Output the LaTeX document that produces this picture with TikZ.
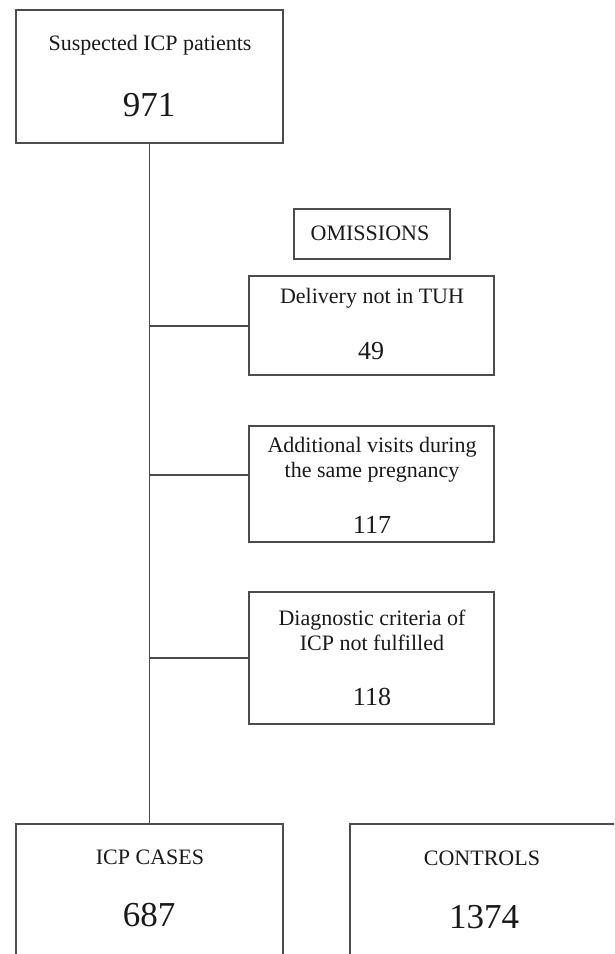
\documentclass[tikz,border=0pt]{standalone}
\usepackage{fontspec}
\setmainfont{Liberation Serif}
\usetikzlibrary{calc}
\definecolor{MyLineGrey}{rgb}{0.3,0.3,0.3}
\definecolor{MyTextGrey}{rgb}{0.1,0.1,0.1}

\begin{document}
\begin{tikzpicture}[x=1pt,y=-1pt]
       \tikzstyle{every node}=[font=\fontsize{22}{25}\selectfont, text=MyTextGrey]
       \tikzstyle{box}=[draw=MyLineGrey, line width=1.6pt, inner sep=0pt]
       \tikzstyle{link}=[draw=MyLineGrey, line width=1.6pt]
       \tikzstyle{bignum}=[font=\fontsize{35}{40}\selectfont]
       \tikzstyle{num}=[font=\fontsize{26}{30}\selectfont]
        \clip (0,0) rectangle (614,954);
        % boxes
        \node[box, minimum width=267pt, minimum height=133pt] (susp) at (149.5, 76.5) {};
        \node[box, minimum width=156pt, minimum height=50pt] (omis) at (372, 234) {};
        \node[box, minimum width=245pt, minimum height=99pt] (dlv) at (371.5, 325.5) {};
        \node[box, minimum width=245pt, minimum height=116pt] (addv) at (371.5, 484) {};
        \node[box, minimum width=245pt, minimum height=132pt] (diag) at (371.5, 658) {};
        \node[box, minimum width=267pt, minimum height=166pt] (cases) at (149.5, 907) {};
        \node[box, minimum width=267pt, minimum height=166pt] (ctrl) at (483.5, 907) {};
        % texts
        \node (suspT) at (150, 45) {Suspected ICP patients};
        \node[bignum] (suspN) at (149, 105) {971};
        \node (omisT) at (370, 233) {OMISSIONS};
        \node (dlvT) at (372, 298) {Delivery not in TUH};
        \node[num] (dlvN) at (371, 351) {49};
        \node[align=center] (addvT) at (372, 460) {Additional visits during\\the same pregnancy};
        \node[num] (addvN) at (372, 525) {117};
        \node[align=center] (diagT) at (372, 630) {Diagnostic criteria of\\ICP not fulfilled};
        \node[num] (diagN) at (372, 697) {118};
        \node (casesT) at (150, 857) {ICP CASES};
        \node[bignum] (casesN) at (149, 915) {687};
        \node (ctrlT) at (482, 858) {CONTROLS};
        \node[bignum] (ctrlN) at (484, 917) {1374};
        % connectors
        \coordinate (j1) at (150, 326);
        \coordinate (j2) at (150, 475);
        \coordinate (j3) at (150, 658);
        \draw[link] (susp.south) -- (cases.north);
        \draw[link] (j1) -- (j1 -| dlv.west);
        \draw[link] (j2) -- (j2 -| addv.west);
        \draw[link] (j3) -- (j3 -| diag.west);
      \end{tikzpicture}
\end{document}
